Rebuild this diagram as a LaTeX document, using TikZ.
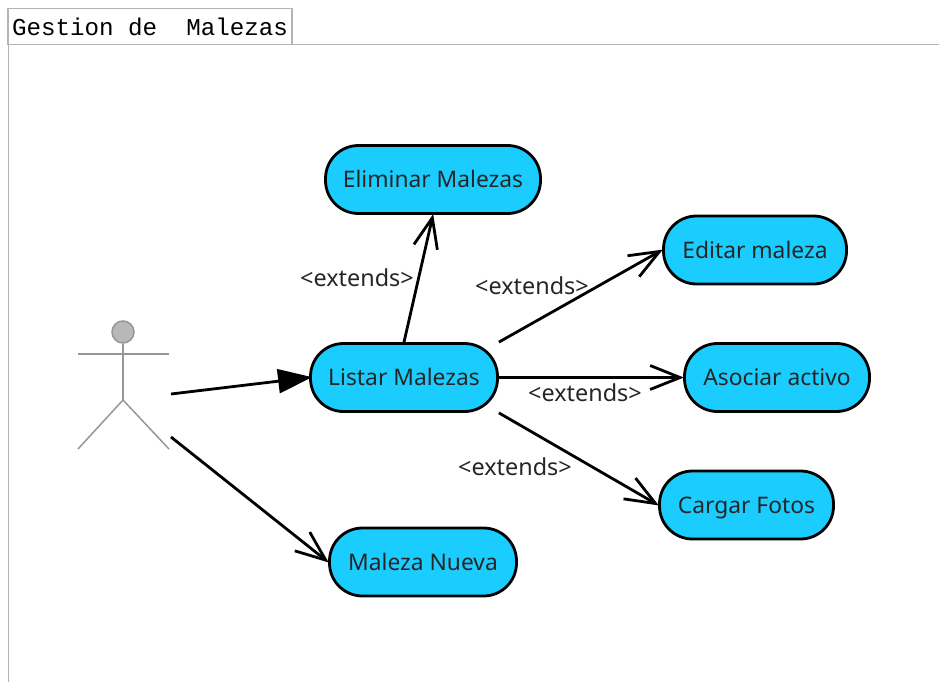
\documentclass[tikz,border=0pt]{standalone}
\usepackage{fontspec}
\setmainfont{Noto Sans}
\newfontfamily\tabfont{Liberation Mono}
\usetikzlibrary{arrows.meta}
\definecolor{casofill}{HTML}{1BCDFF}
\definecolor{marco}{HTML}{B4B4B4}
\definecolor{figura}{HTML}{969696}
\pgfdeclarearrow{
	name=PuntaAbierta,
	defaults={length=30pt,width=24pt},
	setup code={
		\pgfarrowssettipend{3pt}
		\pgfarrowssetbackend{-\pgfarrowlength}
		\pgfarrowssetlineend{0pt}
		\pgfarrowssavethe\pgfarrowlength
		\pgfarrowssavethe\pgfarrowwidth
	},
	drawing code={
		\pgfsetdash{}{0pt}
		\pgfsetmiterjoin
		\pgfpathmoveto{\pgfqpoint{-\pgfarrowlength}{.5\pgfarrowwidth}}
		\pgfpathlineto{\pgfqpoint{0pt}{0pt}}
		\pgfpathlineto{\pgfqpoint{-\pgfarrowlength}{-.5\pgfarrowwidth}}
		\pgfusepathqstroke
	},
}
\tikzset{
	caso/.style={draw=black,line width=2.8pt,fill=casofill,rounded corners=33pt,minimum height=68pt,inner sep=0pt,text height=16.5pt,text depth=0pt,font=\fontsize{22.8}{26}\selectfont,text=black!85},
	enlace/.style={line width=2.8pt,-{PuntaAbierta}},
	etiqueta/.style={inner sep=0pt,font=\fontsize{23.4}{26}\selectfont,text=black!85},
	palo/.style={draw=figura,line width=1.5pt},
}
\begin{document}
\begin{tikzpicture}[x=1pt,y=-1pt]
	\useasboundingbox (0,0) rectangle (939,682);
	% marco y pestana
	\draw[marco,line width=1.8pt] (8.5,682)--(8.5,44.5)--(939,44.5);
	\node (tab) [draw=marco,line width=1.5pt,fill=white,minimum width=284pt,minimum height=36pt,inner sep=0pt,font=\tabfont\fontsize{24.2}{26}\selectfont] at (150,26.5) {Gestion de\ \ Malezas};
	% actor
	\coordinate (cadera) at (123,400);
	\coordinate (manoI) at (78,354);
	\coordinate (manoD) at (169,354);
	\coordinate (pieI) at (78,449);
	\coordinate (pieD) at (169,449);
	\node (cabeza) [circle,draw=figura,line width=1.5pt,fill=black!28,minimum size=22pt,inner sep=0pt] at (123,332) {};
	\draw[palo] (cabeza)--(cadera);
	\draw[palo] (manoI)--(manoD);
	\draw[palo] (pieI)--(cadera)--(pieD);
	% casos de uso
	\node (eliminar) [caso,minimum width=215pt] at (433,179.5) {Eliminar Malezas};
	\node (editar) [caso,minimum width=183pt] at (755,250) {Editar maleza};
	\node (listar) [caso,minimum width=187pt] at (404,377.5) {Listar Malezas};
	\node (asociar) [caso,minimum width=185pt] at (777,377.5) {Asociar activo};
	\node (cargar) [caso,minimum width=174pt] at (746.5,505) {Cargar Fotos};
	\node (nueva) [caso,minimum width=187pt] at (423,562) {Maleza Nueva};
	% flechas
	\coordinate (salidaA) at (171,394);
	\coordinate (salidaB) at (171,437);
	\draw[line width=2.8pt,shorten >=-3pt,-{Triangle[length=34pt,width=24pt]}] (salidaA)--(listar.west);
	\draw[enlace] (salidaB)--(nueva.west);
	\draw[enlace] (listar.north)--(eliminar.south);
	\draw[enlace] (listar.north east)--(editar.west);
	\draw[enlace] (listar.east)--(asociar.west);
	\draw[enlace] (listar.south east)--(cargar.west);
	% etiquetas
	\node (extA) [etiqueta] at (357,278) {<extends>};
	\node (extB) [etiqueta] at (532,286) {<extends>};
	\node (extC) [etiqueta] at (585,393) {<extends>};
	\node (extD) [etiqueta] at (515,467) {<extends>};
\end{tikzpicture}
\end{document}
